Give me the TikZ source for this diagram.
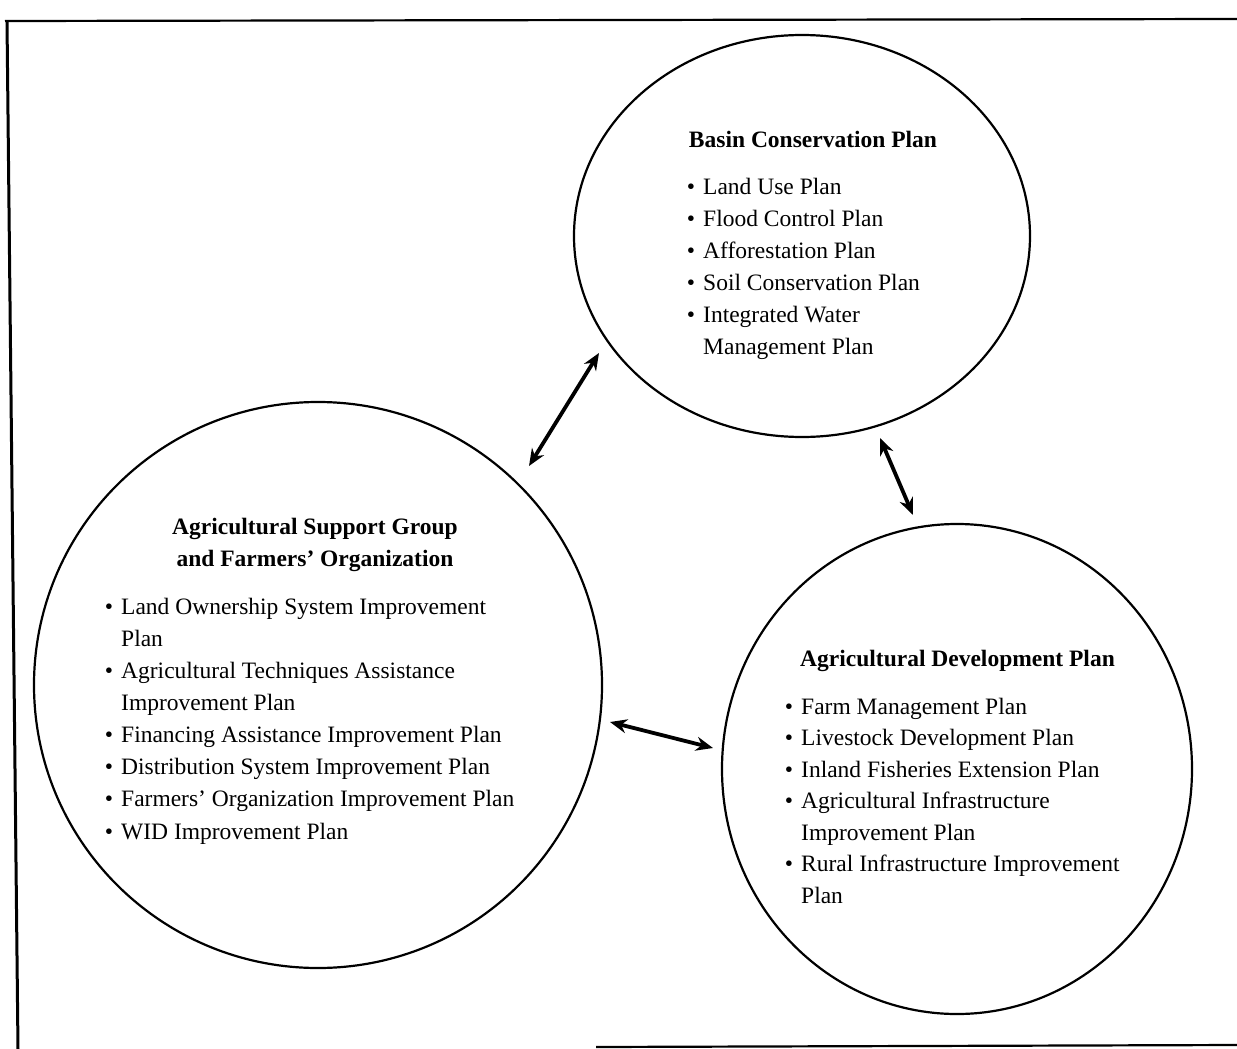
\documentclass[tikz,border=0pt]{standalone}
\usepackage{fontspec}
\setmainfont{Liberation Serif}
\usetikzlibrary{arrows.meta,shapes.geometric}
\newcommand\bul{\llap{\textbullet\hspace{8pt}}}
\begin{document}
\begin{tikzpicture}[x=1pt,y=-1pt,
  ring/.style={draw, ellipse, line width=2.2pt, inner sep=0pt},
  txt/.style={anchor=base west, inner sep=0pt, font=\fontsize{23.5}{28}\selectfont},
  ttl/.style={anchor=base, inner sep=0pt, font=\fontsize{23.5}{28}\selectfont\bfseries},
  link/.style={line width=3.8pt, {Stealth[length=17pt,width=14pt]}-{Stealth[length=17pt,width=14pt]}},
  frameline/.style={line width=2.2pt}
]
\useasboundingbox (0,0) rectangle (1237,1049);

% frame
\coordinate (ftl) at (7,21);
\coordinate (ftr) at (1237,19);
\coordinate (fbl) at (18,1049);
\coordinate (fbs) at (596,1047);
\coordinate (fbr) at (1237,1045);
\draw[frameline] (5,21) -- (ftr);
\draw[frameline, line width=3pt] (ftl) -- (fbl);
\draw[frameline] (fbs) -- (fbr);

% circles
\node[ring, minimum width=456pt, minimum height=402pt] (basin) at (802,236) {};
\node[ring, minimum width=568pt, minimum height=566pt] (support) at (318,685) {};
\node[ring, minimum width=470pt, minimum height=490pt] (agri) at (957,769) {};

% basin text
\node[ttl] (b0) at (813,147) {Basin Conservation Plan};
\node[txt] (b1) at (703,194) {\bul Land Use Plan};
\node[txt] (b2) at (703,226) {\bul Flood Control Plan};
\node[txt] (b3) at (703,258) {\bul Afforestation Plan};
\node[txt] (b4) at (703,290) {\bul Soil Conservation Plan};
\node[txt] (b5) at (703,322) {\bul Integrated Water};
\node[txt] (b6) at (703,354) {Management Plan};

% support text
\node[ttl] (s0) at (315,534) {Agricultural Support Group};
\node[ttl] (s00) at (315,566) {and Farmers’ Organization};
\node[txt] (s1) at (121,614) {\bul Land Ownership System Improvement};
\node[txt] (s2) at (121,646) {Plan};
\node[txt] (s3) at (121,678) {\bul Agricultural Techniques Assistance};
\node[txt] (s4) at (121,710) {Improvement Plan};
\node[txt] (s5) at (121,742) {\bul Financing Assistance Improvement Plan};
\node[txt] (s6) at (121,774) {\bul Distribution System Improvement Plan};
\node[txt] (s7) at (121,806) {\bul Farmers’ Organization Improvement Plan};
\node[txt] (s8) at (121,839) {\bul WID Improvement Plan};

% agri text
\node[ttl] (a0) at (957.5,666) {Agricultural Development Plan};
\node[txt] (a1) at (801,714) {\bul Farm Management Plan};
\node[txt] (a2) at (801,745) {\bul Livestock Development Plan};
\node[txt] (a3) at (801,777) {\bul Inland Fisheries Extension Plan};
\node[txt] (a4) at (801,808) {\bul Agricultural Infrastructure};
\node[txt] (a5) at (801,840) {Improvement Plan};
\node[txt] (a6) at (801,871) {\bul Rural Infrastructure Improvement};
\node[txt] (a7) at (801,903) {Plan};

% connectors
\coordinate (l1a) at (529,466);
\coordinate (l1b) at (599,353);
\coordinate (l2a) at (880,438);
\coordinate (l2b) at (913,515);
\coordinate (l3a) at (610,722);
\coordinate (l3b) at (713,748);
\draw[link] (l1a) -- (l1b);
\draw[link] (l2a) -- (l2b);
\draw[link] (l3a) -- (l3b);
\end{tikzpicture}
\end{document}
